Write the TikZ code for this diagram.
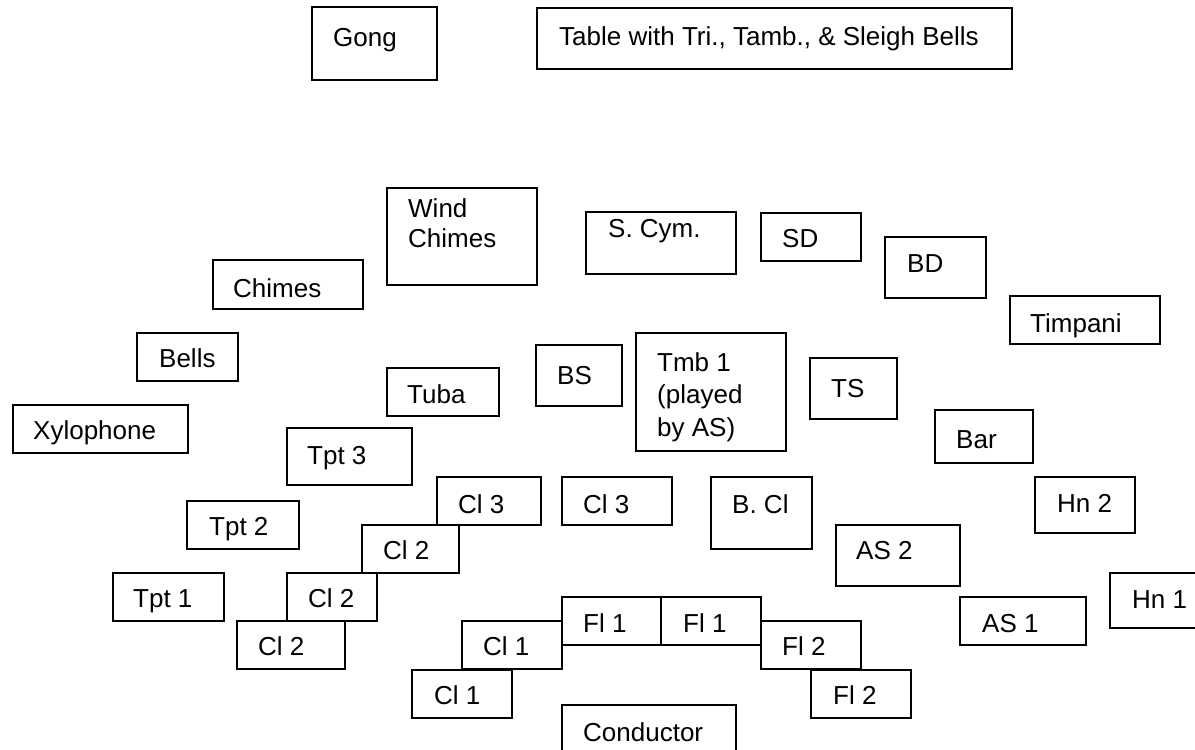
\documentclass[tikz,border=0pt]{standalone}
\usepackage{fontspec}
\setmainfont{Liberation Sans}
\tikzset{
  box/.style={draw=black, line width=1.4pt, inner sep=0pt, rectangle},
  lbl/.style={anchor=base west, inner sep=0pt, font=\fontsize{26}{30}\selectfont}
}
% name, x1, y1, x2, y2, text x, text baseline y, text
\newcommand\instr[8]{%
  \node[box, minimum width={(#4)-(#2)}, minimum height={(#5)-(#3)}] (#1) at ({((#2)+(#4))/2},{((#3)+(#5))/2}) {};
  \node[lbl] (#1-t) at (#6,#7) {#8};%
}
\begin{document}
\begin{tikzpicture}[x=1pt,y=-1pt]
\clip (0,0) rectangle (1195,750);
\fill[white] (0,0) rectangle (1195,750);
\instr{gong}{312}{7}{437}{80}{333}{46}{Gong}
\instr{table}{537}{8}{1012}{69}{559}{45}{Table with Tri., Tamb., \& Sleigh Bells}
\instr{wind}{387}{188}{537}{285}{408}{217}{\begin{tabular}[t]{@{}l@{}}Wind\\Chimes\end{tabular}}
\instr{scym}{586}{212}{736}{274}{608}{237}{S. Cym.}
\instr{sd}{761}{213}{861}{261}{782}{247}{SD}
\instr{bd}{885}{237}{986}{298}{907}{272}{BD}
\instr{chimes}{213}{260}{363}{309}{233}{297}{Chimes}
\instr{timp}{1010}{296}{1160}{344}{1030}{332}{Timpani}
\instr{bells}{137}{333}{238}{381}{159}{367}{Bells}
\instr{bs}{536}{345}{622}{406}{557}{384}{BS}
\instr{tmb}{636}{333}{786}{451}{657}{371}{\fontsize{26}{32.5}\selectfont\begin{tabular}[t]{@{}l@{}}Tmb 1\\(played\\by AS)\end{tabular}}
\instr{ts}{810}{358}{897}{419}{831}{397}{TS}
\instr{tuba}{387}{368}{499}{416}{407}{403}{Tuba}
\instr{xylo}{13}{405}{188}{453}{33}{439}{Xylophone}
\instr{bar}{935}{410}{1033}{463}{956}{448}{Bar}
\instr{tptc}{287}{428}{412}{485}{307}{464}{Tpt 3}
\instr{clca}{437}{477}{541}{525}{458}{513}{Cl 3}
\instr{clcb}{562}{477}{672}{525}{583}{513}{Cl 3}
\instr{bcl}{711}{477}{812}{549}{732}{513}{B. Cl}
\instr{hnb}{1035}{477}{1135}{533}{1057}{512}{Hn 2}
\instr{tptb}{187}{501}{299}{549}{209}{535}{Tpt 2}
\instr{clba}{362}{525}{459}{573}{383}{559}{Cl 2}
\instr{asb}{836}{525}{960}{586}{856}{559}{AS 2}
\instr{tpta}{113}{573}{224}{621}{133}{607}{Tpt 1}
\instr{clbb}{287}{573}{377}{621}{308}{607}{Cl 2}
\instr{hna}{1110}{573}{1215}{628}{1132}{608}{Hn 1}
\instr{asa}{960}{597}{1086}{645}{982}{632}{AS 1}
\instr{flaa}{562}{597}{661}{645}{583}{632}{Fl 1}
\instr{flab}{661}{597}{761}{645}{683}{632}{Fl 1}
\instr{clbc}{237}{621}{345}{669}{258}{655}{Cl 2}
\instr{claa}{462}{621}{562}{669}{483}{655}{Cl 1}
\instr{flba}{761}{621}{861}{669}{782}{655}{Fl 2}
\instr{clab}{412}{670}{512}{718}{434}{704}{Cl 1}
\instr{flbb}{811}{670}{911}{718}{833}{704}{Fl 2}
\instr{cond}{562}{705}{736}{775}{583}{741}{Conductor}
\end{tikzpicture}
\end{document}
